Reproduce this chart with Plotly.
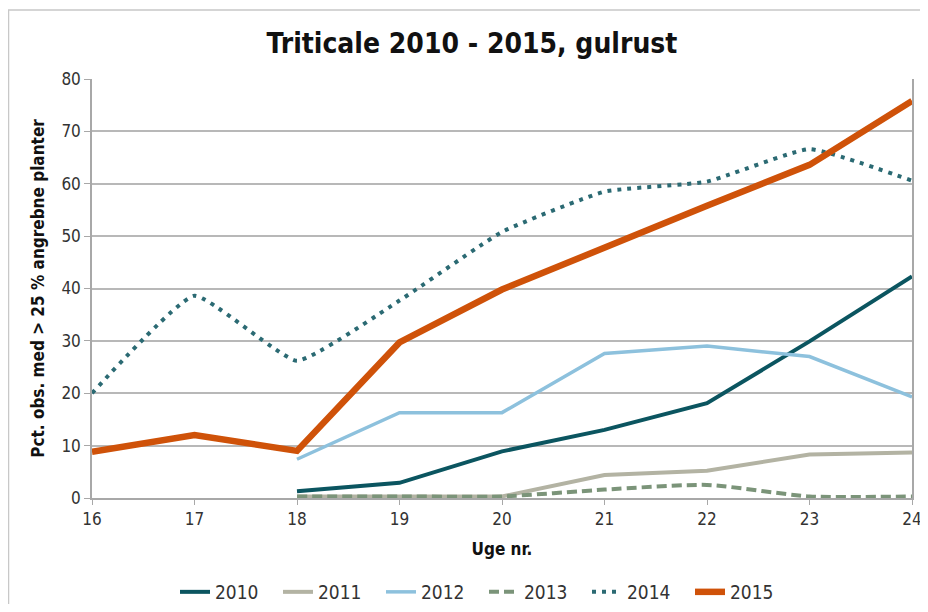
import plotly.graph_objects as go

weeks = [16, 17, 18, 19, 20, 21, 22, 23, 24]
weeks_late = [18, 19, 20, 21, 22, 23, 24]

y2010 = [1.3, 2.9, 8.9, 13.0, 18.1, 29.9, 42.3]
y2011 = [0.3, 0.3, 0.3, 4.4, 5.2, 8.3, 8.7]
y2012 = [7.4, 16.3, 16.3, 27.6, 29.0, 27.0, 19.3]
y2013 = [0.3, 0.3, 0.3, 1.6, 2.5, 0.3, 0.3]
y2014 = [20.0, 38.6, 26.2, 37.7, 50.8, 58.5, 60.4, 66.6, 60.6]
y2015 = [8.8, 12.0, 9.0, 29.7, 39.8, 47.9, 55.8, 63.6, 75.8]

FONT = "DejaVu Sans Condensed, Liberation Sans Narrow, Roboto Condensed, Open Sans, sans-serif"
W, H = 919, 596
L, R, T, B = 84, 15, 71, 106
PW, PH = W - L - R, H - T - B
OFF = 8  # page body margin

fig = go.Figure()

fig.add_trace(go.Scatter(x=weeks_late, y=y2010, name="2010", mode="lines",
                         line=dict(color="#0b5560", width=4)))
fig.add_trace(go.Scatter(x=weeks_late, y=y2011, name="2011", mode="lines",
                         line=dict(color="#b3b3a3", width=4)))
fig.add_trace(go.Scatter(x=weeks_late, y=y2012, name="2012", mode="lines",
                         line=dict(color="#8dc1dd", width=3.5)))
fig.add_trace(go.Scatter(x=weeks_late, y=y2013, name="2013", mode="lines",
                         line=dict(color="#7b9479", width=4, dash="10px,5px", shape="spline", smoothing=0.6)))
fig.add_trace(go.Scatter(x=weeks, y=y2014, name="2014", mode="lines",
                         line=dict(color="#2b6a73", width=4, dash="4px,6px", shape="spline", smoothing=0.4)))
fig.add_trace(go.Scatter(x=weeks, y=y2015, name="2015", mode="lines",
                         line=dict(color="#cf5209", width=6.5)))

fig.update_layout(
    width=W, height=H,
    margin=dict(l=L, r=R, t=T, b=B, autoexpand=False),
    paper_bgcolor="white", plot_bgcolor="white",
    font=dict(family=FONT, size=16, color="#333333"),
    title=dict(text="<b>Triticale 2010 - 2015, gulrust</b>", x=(472 - OFF) / W, xanchor="center",
               xref="container", y=1 - (43 - OFF) / H, yanchor="middle",
               font=dict(family=FONT, size=28, color="#111111")),
    showlegend=True,
    legend=dict(orientation="h", x=(484 - OFF - L) / PW, xanchor="center",
                y=-(592 - OFF - (T + PH)) / PH, yanchor="middle",
                font=dict(family=FONT, size=19, color="#333333"),
                itemwidth=30, tracegroupgap=0, entrywidth=58),
    shapes=[dict(type="rect", xref="paper", yref="paper",
                 x0=(-L + 0.5) / PW, x1=(W - L + 20) / PW,
                 y0=-(B + 20) / PH, y1=1 + (T - 2) / PH,
                 line=dict(color="#c8c8c8", width=1.5), layer="below")],
)

fig.update_xaxes(range=[16, 24], tickmode="linear", tick0=16, dtick=1,
                 showgrid=False, showline=True, linecolor="#a8a8a8", linewidth=1.5,
                 ticks="outside", ticklen=5, tickcolor="#a8a8a8",
                 ticklabeloverflow="allow",
                 tickfont=dict(family=FONT, size=17, color="#333333"),
                 title=dict(text="<b>Uge nr.</b>", standoff=15,
                            font=dict(family=FONT, size=17, color="#111111")),
                 zeroline=False, automargin=False)
fig.update_yaxes(range=[0, 80], tickmode="linear", tick0=0, dtick=10,
                 showgrid=True, gridcolor="#b8b8b8", gridwidth=1.5,
                 showline=True, mirror=True, linecolor="#a8a8a8", linewidth=1.5,
                 ticks="outside", ticklen=6, tickcolor="#a8a8a8",
                 ticklabeloverflow="allow",
                 tickfont=dict(family=FONT, size=17, color="#333333"),
                 title=dict(text="<b>Pct. obs. med &gt; 25 % angrebne planter</b>", standoff=12,
                            font=dict(family=FONT, size=17, color="#111111")),
                 zeroline=False, automargin=False)

fig.write_html("out.html")
